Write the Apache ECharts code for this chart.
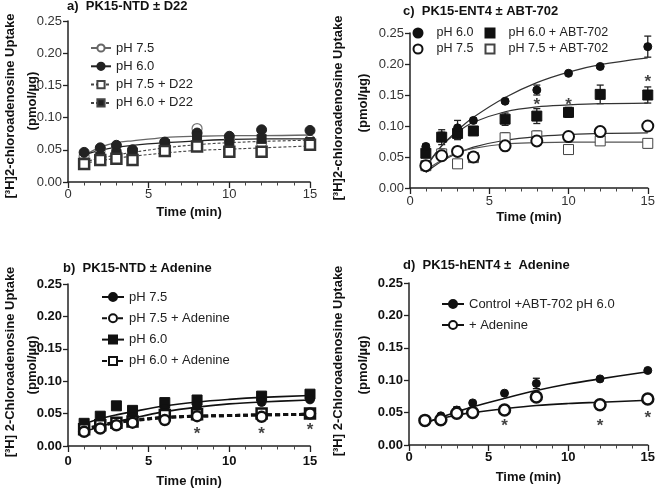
<!DOCTYPE html>
<html><head><meta charset="utf-8">
<script src="https://cdn.jsdelivr.net/npm/echarts@6/dist/echarts.min.js"></script>
<style>html,body{margin:0;padding:0;background:#fff}#c{width:658px;height:489px}</style>
</head><body><div id="c"></div>
<script>
// ---------- data ----------
const timeFull = [1, 2, 3, 4, 6, 8, 10, 12, 15];
const timeBD = [1, 2, 3, 4, 6, 8, 12, 15];
const ticksY = [0, 0.05, 0.10, 0.15, 0.20, 0.25];

// Panel a
const aPH75 = [0.040, 0.050, 0.045, 0.045, 0.060, 0.083, 0.065, 0.060, 0.065];
const aPH60 = [0.046, 0.053, 0.057, 0.050, 0.062, 0.076, 0.071, 0.081, 0.080];
const aPH75D22 = [0.028, 0.034, 0.036, 0.034, 0.048, 0.055, 0.047, 0.047, 0.058];
const aPH60D22 = [0.030, 0.039, 0.044, 0.046, 0.059, 0.071, 0.059, 0.067, 0.062];
const aErr75 = [0.003, 0.003, 0.002, 0.002, 0.003, 0.003, 0.003, 0.004, 0.003];
const aErr60 = [0.003, 0.003, 0.003, 0.002, 0.003, 0.004, 0.003, 0.004, 0.003];
const aErr75D = [0.002, 0.003, 0.002, 0.002, 0.003, 0.003, 0.002, 0.002, 0.002];
const aErr60D = [0.002, 0.003, 0.003, 0.003, 0.003, 0.004, 0.003, 0.003, 0.003];
const aFit75 = [0.041, 0.054, 0.061, 0.064, 0.069, 0.071, 0.072, 0.072, 0.073];
const aFit60 = [0.042, 0.049, 0.054, 0.057, 0.061, 0.064, 0.066, 0.067, 0.067];
const aFit75D22 = [0.029, 0.033, 0.037, 0.040, 0.045, 0.049, 0.051, 0.053, 0.056];
const aFit60D22 = [0.031, 0.037, 0.042, 0.046, 0.053, 0.058, 0.061, 0.063, 0.065];

// Panel c
const cPH60 = [0.067, 0.084, 0.097, 0.109, 0.140, 0.158, 0.185, 0.196, 0.228];
const cPH75 = [0.036, 0.052, 0.059, 0.050, 0.068, 0.076, 0.083, 0.091, 0.100];
const cPH60ABT = [0.056, 0.082, 0.088, 0.092, 0.111, 0.116, 0.122, 0.151, 0.150];
const cPH75ABT = [0.036, 0.055, 0.039, 0.049, 0.081, 0.084, 0.062, 0.076, 0.072];
const cErr60 = [0.004, 0.006, 0.012, 0.004, 0.003, 0.008, 0.002, 0.003, 0.017];
const cErr60ABT = [0.004, 0.012, 0.010, 0.006, 0.010, 0.012, 0.008, 0.015, 0.013];
const cErr75 = [0.002, 0.004, 0.005, 0.003, 0.005, 0.006, 0.003, 0.003, 0.003];
const cErr75ABT = [0.002, 0.008, 0.002, 0.002, 0.008, 0.008, 0.002, 0.003, 0.007];
const cFit60 = [0.033, 0.068, 0.093, 0.114, 0.146, 0.170, 0.187, 0.199, 0.210];
const cFit60ABT = [0.035, 0.068, 0.090, 0.106, 0.123, 0.131, 0.134, 0.136, 0.137];
const cFit75 = [0.025, 0.043, 0.056, 0.066, 0.077, 0.083, 0.086, 0.088, 0.089];
const cFit75ABT = [0.028, 0.045, 0.057, 0.064, 0.071, 0.073, 0.074, 0.074, 0.074];
const cStarX = [8, 10, 15];
const cStarY = [0.142, 0.142, 0.178];

// Panel b
const bPH75 = [0.025, 0.030, 0.035, 0.045, 0.058, 0.062, 0.068, 0.072];
const bPH75Ade = [0.022, 0.027, 0.032, 0.036, 0.040, 0.046, 0.045, 0.050];
const bPH60 = [0.035, 0.046, 0.062, 0.055, 0.067, 0.071, 0.077, 0.080];
const bPH60Ade = [0.026, 0.032, 0.036, 0.038, 0.048, 0.049, 0.050, 0.050];
const bErr75 = [0.003, 0.002, 0.003, 0.003, 0.004, 0.003, 0.005, 0.004];
const bErr60 = [0.003, 0.003, 0.004, 0.003, 0.003, 0.003, 0.003, 0.003];
const bErrAde = [0.002, 0.002, 0.002, 0.002, 0.003, 0.002, 0.003, 0.003];
const bFit60 = [0.034, 0.042, 0.048, 0.053, 0.062, 0.068, 0.072, 0.075, 0.078];
const bFit75 = [0.022, 0.030, 0.037, 0.043, 0.053, 0.060, 0.065, 0.068, 0.071];
const bFit75Ade = [0.025, 0.031, 0.036, 0.039, 0.044, 0.046, 0.047, 0.048, 0.049];
const bFit60Ade = [0.026, 0.032, 0.037, 0.040, 0.044, 0.046, 0.047, 0.048, 0.049];
const bStarX = [8, 12, 15];
const bStarY = [0.025, 0.025, 0.032];

// Panel d
const dCtrl = [0.036, 0.045, 0.054, 0.065, 0.080, 0.095, 0.102, 0.115];
const dAde = [0.038, 0.039, 0.049, 0.050, 0.054, 0.074, 0.062, 0.071];
const dErrCtrl = [0.002, 0.002, 0.005, 0.002, 0.002, 0.008, 0.002, 0.002];
const dErrAde = [0.002, 0.002, 0.002, 0.002, 0.002, 0.003, 0.002, 0.006];
const dFitCtrl = [0.034, 0.043, 0.051, 0.059, 0.072, 0.084, 0.094, 0.102, 0.113];
const dFitAde = [0.035, 0.041, 0.046, 0.050, 0.056, 0.061, 0.064, 0.066, 0.069];
const dStarX = [6, 12, 15];
const dStarY = [0.037, 0.037, 0.049];

// ---------- helpers ----------
const FONT = 'Liberation Sans, Arial, sans-serif';
const pair = (xs, ys) => xs.map((x, i) => [x, ys[i]]);

function errBars(gi, xs, ys, es, color) {
  return {
    type: 'custom', xAxisIndex: gi, yAxisIndex: gi, silent: true, z: 1,
    data: xs.map((x, i) => [x, ys[i] - es[i], ys[i] + es[i]]),
    renderItem: (p, api) => {
      const lo = api.coord([api.value(0), api.value(1)]);
      const hi = api.coord([api.value(0), api.value(2)]);
      const w = 3.5, st = { stroke: color, lineWidth: 1.3 };
      return { type: 'group', children: [
        { type: 'line', shape: { x1: lo[0], y1: lo[1], x2: hi[0], y2: hi[1] }, style: st },
        { type: 'line', shape: { x1: hi[0] - w, y1: hi[1], x2: hi[0] + w, y2: hi[1] }, style: st },
        { type: 'line', shape: { x1: lo[0] - w, y1: lo[1], x2: lo[0] + w, y2: lo[1] }, style: st }
      ] };
    }
  };
}
function dataSeries(gi, name, xs, ys, symbol, size, fill, border, bw) {
  return { type: 'scatter', name: name, xAxisIndex: gi, yAxisIndex: gi, z: 3,
    data: pair(xs, ys), symbol: symbol, symbolSize: size,
    itemStyle: { color: fill, borderColor: border, borderWidth: bw, opacity: 1 } };
}
function fitSeries(gi, name, ys, color, width, type, symbol, size, fill, bw) {
  return { type: 'line', name: name, xAxisIndex: gi, yAxisIndex: gi, z: 2,
    data: pair(timeFull, ys), smooth: 0.35, showSymbol: false,
    symbol: symbol || 'none', symbolSize: size || 8,
    itemStyle: { color: fill || color, borderColor: color, borderWidth: bw || 1 },
    lineStyle: { color: color, width: width, type: type || 'solid' } };
}
function stars(gi, xs, ys) {
  return { type: 'scatter', xAxisIndex: gi, yAxisIndex: gi, z: 4, silent: true,
    data: pair(xs, ys), symbol: 'circle', symbolSize: 2, itemStyle: { color: 'rgba(0,0,0,0)' },
    label: { show: true, position: 'inside', formatter: '*', fontSize: 17, fontWeight: 'bold',
      color: '#111', fontFamily: FONT, offset: [0, 5] } };
}

const grids = [
  { left: 68, top: 21, width: 242, height: 161 },   // a
  { left: 410, top: 33, width: 242, height: 155 },  // c
  { left: 68, top: 284, width: 242, height: 162 },  // b
  { left: 409, top: 283, width: 242, height: 162 }  // d
];
const boldAx = [false, false, true, true];
const nameGaps = [24, 23, 29, 26];
const xMargins = [6, 7, 9, 6];

const xAxes = grids.map((g, i) => ({
  type: 'value', gridIndex: i, min: 0, max: 15, interval: 5,
  name: 'Time (min)', nameLocation: 'middle', nameGap: nameGaps[i],
  nameTextStyle: { fontFamily: FONT, fontSize: 13, fontWeight: 'bold', color: '#111' },
  axisLine: { show: true, lineStyle: { color: '#222', width: 1.5 } },
  axisTick: { show: true, length: 6, lineStyle: { color: '#222', width: 1.3 } },
  minorTick: { show: true, splitNumber: 5, length: 3.5, lineStyle: { color: '#444', width: 1 } },
  splitLine: { show: false },
  axisLabel: { fontFamily: FONT, fontSize: 13, margin: xMargins[i], color: boldAx[i] ? '#111' : '#333',
    fontWeight: boldAx[i] ? 'bold' : 'normal' }
}));
const yAxes = grids.map((g, i) => ({
  type: 'value', gridIndex: i, min: ticksY[0], max: ticksY[ticksY.length - 1], interval: 0.05,
  axisLine: { show: true, lineStyle: { color: '#222', width: 1.5 } },
  axisTick: { show: true, length: 5, lineStyle: { color: '#222', width: 1.3 } },
  splitLine: { show: false },
  axisLabel: { fontFamily: FONT, fontSize: 13, margin: 6, color: boldAx[i] ? '#111' : '#333',
    fontWeight: boldAx[i] ? 'bold' : 'normal', formatter: v => v.toFixed(2) }
}));

const series = [
  // ----- panel a (grid 0) -----
  fitSeries(0, 'a|pH 7.5', aFit75, '#666', 1.3, 'solid', 'circle', 9, '#fff', 1.2),
  fitSeries(0, 'a|pH 6.0', aFit60, '#222', 1.3, 'solid', 'circle', 9, '#222', 1),
  fitSeries(0, 'a|pH 7.5 + D22', aFit75D22, '#444', 1.1, [3, 2], 'rect', 9, '#fff', 2.2),
  fitSeries(0, 'a|pH 6.0 + D22', aFit60D22, '#444', 1.1, [3, 2], 'rect', 9, '#222', 1),
  errBars(0, timeFull, aPH75, aErr75, '#666'),
  errBars(0, timeFull, aPH60, aErr60, '#222'),
  errBars(0, timeFull, aPH75D22, aErr75D, '#333'),
  errBars(0, timeFull, aPH60D22, aErr60D, '#222'),
  dataSeries(0, 'a-d1', timeFull, aPH75, 'circle', 10, '#fff', '#777', 1.2),
  dataSeries(0, 'a-d2', timeFull, aPH60, 'circle', 10, '#222', '#222', 1),
  dataSeries(0, 'a-d4', timeFull, aPH60D22, 'rect', 9, '#222', '#222', 1),
  dataSeries(0, 'a-d3', timeFull, aPH75D22, 'rect', 10, '#fff', '#333', 2.5),

  // ----- panel c (grid 1) -----
  fitSeries(1, 'c-f1', cFit60, '#333', 1.2),
  fitSeries(1, 'c-f2', cFit60ABT, '#333', 1.2),
  fitSeries(1, 'c-f3', cFit75, '#333', 1.2),
  fitSeries(1, 'c-f4', cFit75ABT, '#555', 1.2),
  errBars(1, timeFull, cPH60, cErr60, '#222'),
  errBars(1, timeFull, cPH60ABT, cErr60ABT, '#222'),
  errBars(1, timeFull, cPH75, cErr75, '#333'),
  errBars(1, timeFull, cPH75ABT, cErr75ABT, '#555'),
  dataSeries(1, 'c|pH 7.5 + ABT-702', timeFull, cPH75ABT, 'rect', 10, '#fff', '#444', 1),
  dataSeries(1, 'c|pH 7.5', timeFull, cPH75, 'circle', 11, '#fff', '#111', 2),
  dataSeries(1, 'c|pH 6.0 + ABT-702', timeFull, cPH60ABT, 'rect', 10, '#111', '#111', 1),
  dataSeries(1, 'c|pH 6.0', timeFull, cPH60, 'circle', 8, '#111', '#111', 1),
  stars(1, cStarX, cStarY),

  // ----- panel b (grid 2) -----
  fitSeries(2, 'b|pH 7.5', bFit75, '#111', 1.6, 'solid', 'circle', 9, '#111', 1),
  fitSeries(2, 'b|pH 7.5 + Adenine', bFit75Ade, '#111', 3, [5, 3], 'circle', 9, '#fff', 2.5),
  fitSeries(2, 'b|pH 6.0', bFit60, '#111', 1.6, 'solid', 'rect', 9, '#111', 1),
  fitSeries(2, 'b|pH 6.0 + Adenine', bFit60Ade, '#111', 3, [5, 3], 'rect', 9, '#fff', 2.5),
  errBars(2, timeBD, bPH75, bErr75, '#111'),
  errBars(2, timeBD, bPH60, bErr60, '#111'),
  errBars(2, timeBD, bPH75Ade, bErrAde, '#111'),
  errBars(2, timeBD, bPH60Ade, bErrAde, '#111'),
  dataSeries(2, 'b-d3', timeBD, bPH60, 'rect', 10, '#111', '#111', 1),
  dataSeries(2, 'b-d1', timeBD, bPH75, 'circle', 9, '#111', '#111', 1),
  dataSeries(2, 'b-d4', timeBD, bPH60Ade, 'rect', 10, '#fff', '#111', 2.5),
  dataSeries(2, 'b-d2', timeBD, bPH75Ade, 'circle', 10, '#fff', '#111', 2.5),
  stars(2, bStarX, bStarY),

  // ----- panel d (grid 3) -----
  fitSeries(3, 'd|Control +ABT-702 pH 6.0', dFitCtrl, '#111', 1.6, 'solid', 'circle', 8, '#111', 1),
  fitSeries(3, 'd|+ Adenine', dFitAde, '#111', 1.6, 'solid', 'circle', 10, '#fff', 2.5),
  errBars(3, timeBD, dCtrl, dErrCtrl, '#111'),
  errBars(3, timeBD, dAde, dErrAde, '#111'),
  dataSeries(3, 'd-d1', timeBD, dCtrl, 'circle', 8, '#111', '#111', 1),
  dataSeries(3, 'd-d2', timeBD, dAde, 'circle', 11, '#fff', '#111', 2.5),
  stars(3, dStarX, dStarY)
];

const legFmt = n => n.split('|')[1];
const legText = { fontFamily: FONT, fontSize: 13, color: '#222' };
const legTextC = { fontFamily: FONT, fontSize: 12.5, color: '#222', padding: [0, 0, 0, 9] };
const legends = [
  { data: ['a|pH 7.5', 'a|pH 6.0', 'a|pH 7.5 + D22', 'a|pH 6.0 + D22'], left: 90, top: 41.5, orient: 'vertical', padding: 0,
    itemWidth: 20, itemHeight: 9, itemGap: 5.3, formatter: legFmt, textStyle: legText, selectedMode: false },
  { data: ['c|pH 6.0', 'c|pH 7.5'], left: 412.5, top: 26.5, orient: 'vertical', padding: 0,
    itemWidth: 9, itemHeight: 9, itemGap: 3, formatter: legFmt, textStyle: legTextC, selectedMode: false },
  { data: ['c|pH 6.0 + ABT-702', 'c|pH 7.5 + ABT-702'], left: 484.5, top: 26.5, orient: 'vertical', padding: 0,
    itemWidth: 9, itemHeight: 9, itemGap: 3, formatter: legFmt, textStyle: legTextC, selectedMode: false },
  { data: ['b|pH 7.5', 'b|pH 7.5 + Adenine', 'b|pH 6.0', 'b|pH 6.0 + Adenine'], left: 101, top: 290.5, orient: 'vertical', padding: 0,
    itemWidth: 22, itemHeight: 10, itemGap: 8.3, formatter: legFmt, textStyle: legText, selectedMode: false },
  { data: ['d|Control +ABT-702 pH 6.0', 'd|+ Adenine'], left: 441, top: 297.5, orient: 'vertical', padding: 0,
    itemWidth: 22, itemHeight: 10, itemGap: 8, formatter: legFmt, textStyle: legText, selectedMode: false }
];

const titleStyle = { fontFamily: FONT, fontSize: 13, fontWeight: 'bold', fill: '#111' };
const yTitle = (x, y, t) => ({ type: 'text', x: x, y: y, rotation: Math.PI / 2,
  style: Object.assign({ text: t, align: 'center', verticalAlign: 'middle' }, titleStyle) });
const graphic = [
  { type: 'text', x: 67, y: 6, style: Object.assign({ text: 'a)  PK15-NTD ± D22', verticalAlign: 'middle' }, titleStyle) },
  { type: 'text', x: 403, y: 11, style: Object.assign({ text: 'c)  PK15-ENT4 ± ABT-702', verticalAlign: 'middle' }, titleStyle) },
  { type: 'text', x: 63, y: 268, style: Object.assign({ text: 'b)  PK15-NTD ± Adenine', verticalAlign: 'middle' }, titleStyle) },
  { type: 'text', x: 403, y: 265, style: Object.assign({ text: 'd)  PK15-hENT4 ±  Adenine', verticalAlign: 'middle' }, titleStyle) },
  yTitle(10, 106, '[³H]2-chloroadenosine Uptake'), yTitle(32, 101, '(pmol/µg)'),
  yTitle(338, 108, '[³H]2-chloroadenosine Uptake'), yTitle(363, 103, '(pmol/µg)'),
  yTitle(10, 362, '[³H] 2-Chloroadenosine Uptake'), yTitle(32, 365, '(pmol/µg)'),
  yTitle(338, 361, '[³H] 2-Chloroadenosine Uptake'), yTitle(363, 365, '(pmol/µg)')
];

const chart = echarts.init(document.getElementById('c'), null, { renderer: 'canvas' });
chart.setOption({
  animation: false, backgroundColor: '#fff',
  grid: grids, xAxis: xAxes, yAxis: yAxes, series: series, legend: legends, graphic: graphic
});
</script></body></html>
